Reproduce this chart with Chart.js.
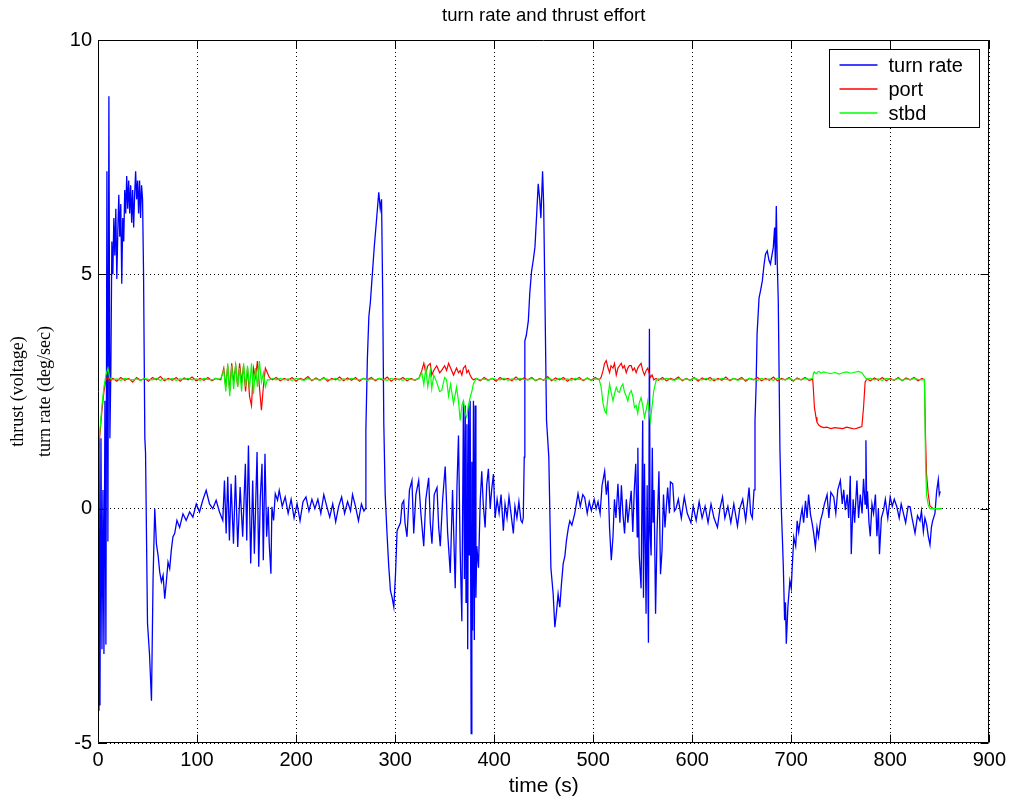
<!DOCTYPE html>
<html>
<head>
<meta charset="utf-8">
<script src="https://cdn.jsdelivr.net/npm/chart.js@4.4.1/dist/chart.umd.min.js"></script>
<style>
    body { margin: 0; background: #fff; }
    .chart-box { width: 1011px; height: 801px; }
</style>
</head>
<body>
<div class="chart-box"><canvas id="thrustChart"></canvas></div>
<script>
// turn rate (deg/sec)
const turnTime = [
    0, 1, 2, 3, 4, 5, 6, 7, 8, 9, 10, 11, 12, 13, 14,
    15, 16, 17, 18, 19, 20, 21, 22, 23, 24, 25, 26, 27, 28, 29, 30,
    31, 32, 33, 34, 35, 36, 37, 38, 39, 40, 41, 42, 43, 44, 45, 46,
    47.3, 48, 50, 52, 54, 55.6, 57.3, 59, 60.7, 62.3, 64, 65.7, 67.4, 69, 70.7,
    72.4, 74, 75.7, 77.4, 79.7, 82.4, 85.8, 89, 92.5, 95.8, 99.2, 102.5, 105.8, 109.2,
    112.6, 115.9, 119.3, 122.7, 126,
    127.7, 129.4, 131, 132.7, 134.4, 136.8, 138.8, 141.1, 143.5, 146.1, 148.8, 150.2,
    151.9, 154.2, 156.2, 157.9, 160.6, 162.3, 163.9, 165.6, 166.9, 168.6, 170.3, 171.9,
    172.9, 174.6, 175.6, 177.3, 179, 181.3, 183,
    186, 189, 192, 195, 198, 201, 204, 207, 210, 213, 216, 219, 222, 225, 228, 231,
    234, 237, 240, 243, 246, 249, 252, 255, 257, 260, 263, 266, 268.5, 270,
    270.5, 272, 273.5, 275, 277, 279, 281, 283.5, 285, 286.3, 287.5, 288.6, 290, 292,
    293.5, 295.3, 297, 298.7, 300.4, 302, 305.4, 307, 308.7, 310, 312, 314.5, 317, 318.8,
    321, 323.8, 326, 328.9, 331, 333.9, 335.5, 337.2, 339.5, 342.3, 344, 345.6, 348, 350.6,
    353, 355.7, 358, 360.7, 362.5, 364, 365.7, 367.4, 369, 370, 370.8, 371.6, 372.5, 373.3,
    374.2, 375, 375.8, 376.8, 377.5, 378.3, 379.1, 380, 380.8, 381.6, 382.5, 384.2, 386,
    387.5, 389, 390.9, 392.5, 394.2, 396, 397.5, 399.3, 401, 403, 405, 407, 409.3, 411,
    413, 415, 417, 419.4, 421, 423, 425, 427, 428.4, 429.4, 430.4, 431, 432.5, 434.5, 436,
    437.8, 439.5, 441.2, 443, 444.5, 446, 447.2, 448.9, 450, 451.2, 452.9, 455.2, 457.3,
    459.6, 461.3, 463, 464.6, 466.3, 468, 469.7, 471.5, 473, 475, 476.4, 478.5, 481.4, 483,
    484.7, 487, 489.5, 491.4, 494, 496, 498.2, 501, 503, 504.9, 507, 509, 511.6, 513.3, 515,
    516.5, 518.3, 520, 521.5, 523, 525, 527, 528.5, 530, 531.7, 533.5, 535, 537, 538.4, 540,
    541.5, 543, 544.5, 545.1, 546.5, 548.4, 550, 550.8, 551.8, 553.4, 554.5, 555.8, 556.8,
    557.5, 558.5, 559.7, 560.5, 561.5, 563, 564.5, 566.4, 568, 569.5, 571, 572.5, 575.2,
    577, 578, 580.3, 582, 583.6,
    586, 589, 592, 595, 598.7, 601, 604, 607, 610, 613, 616, 619, 622, 625.5, 628, 630.6,
    633, 636, 639, 642, 645.7, 648, 651, 654, 657.4, 659, 660.7, 662.4, 663.4, 664.5, 665.5,
    667.5, 669, 670.8, 672.5, 674, 675.8, 677.5, 679, 681.9, 683.2, 684, 684.9, 685.9, 686.9,
    688.6, 689.9, 691, 692, 693.3, 694.2, 695, 696.6, 698.6, 700, 701, 702.6, 704.5, 706,
    707.5, 709.4, 711, 712.5, 714.4, 716, 717.5, 719.4, 721, 722.5, 724.4, 726, 727.5, 729.5,
    731.5, 733.5, 736.2, 738, 740, 742.9, 745, 747, 749.6, 751.5, 753, 754.6, 756.5, 758,
    759.6, 760.6, 762.5, 764, 766.3, 768, 769.7, 771.5, 773, 774.5, 775.4, 776.2, 777, 778.5,
    779.8, 781.5, 783.1, 785, 786.5, 788, 789.1, 791, 793.2, 795, 797.5, 799.9, 802, 804,
    806.6, 809, 811, 813.3, 815.5, 818, 820, 822, 825, 827.5, 830, 831.5, 833.4, 835, 836.8,
    838.4, 840.1, 841.5, 842.8, 845.1, 846.8, 848.5, 849.5, 850.5
];
const turnRate = [
    -4.3, 1.4, -4.2, 1.5, -3.0, 0.4, -3.1, 2.3, -2.9, 7.2, -0.7, 8.8, 1.5, 3.0, 5.7,
    5.0, 6.2, 5.4, 6.4, 4.9, 5.9, 6.7, 5.8, 6.5, 4.8, 6.2, 5.7, 6.8, 6.3, 7.1, 6.4,
    7.0, 6.3, 6.9, 6.1, 6.8, 6.0, 6.7, 7.2, 6.6, 7.0, 6.3, 7.0, 6.2, 6.9, 6.6, 5.0,
    1.5, 1.2, -2.45, -3.1, -4.1, -1.5, 0.0, -0.75, -1.0, -1.35, -1.56, -1.42, -1.92, -1.56, -1.14,
    -1.28, -0.89, -0.6, -0.53, -0.25, -0.4, -0.11, -0.25, -0.07, -0.18, 0.1, -0.07, 0.18, 0.39,
    0.1, 0.0, 0.18, -0.07, -0.25,
    0.6, -0.53, 0.68, -0.68, 0.53, -0.75, 0.71, -0.82, 0.46, -0.6, 0.96, -0.68,
    1.35, -1.17, 0.6, -0.96, 1.21, -1.24, 0.25, 0.96, -1.1, 1.17, -0.6, 0.04,
    -0.75, -1.39, 0.04, -0.25, 0.32, 0.18, 0.39,
    0.05, 0.25, -0.1, 0.2, -0.2, 0.1, -0.26, 0.15, 0.25, -0.05, 0.2, 0.0, 0.2, -0.1, 0.3, 0.05,
    -0.18, 0.1, -0.28, 0.05, 0.25, -0.1, 0.15, -0.05, 0.3, 0.05, -0.26, 0.1, -0.05, 0.0,
    1.7, 3.2, 4.1, 4.4, 5.0, 5.6, 6.1, 6.75, 6.4, 6.6, 4.5, 1.8, 0.3, -0.6,
    -1.2, -1.75, -1.9, -2.1, -1.4, -0.47, -0.3, 0.1, 0.17, -0.3, -0.6, 0.4, 0.6, -0.53,
    0.3, 0.6, -0.1, -0.8, 0.2, 0.66, -0.3, -0.75, 0.3, 0.45, -0.4, -0.8, 0.2, 0.9,
    -0.5, -1.37, 0.4, -1.7, 0.5, 1.56, -0.9, -2.4, 2.3, -1.5, 2.2, -2.0, 1.8, -3.0,
    2.2, -1.0, 2.3, -4.8, 1.0, -2.6, 2.3, -2.8, 2.2, -1.9, -0.8, -1.26, 0.2,
    0.8, 0.1, -0.4, 0.5, 0.85, 0.0, 0.4, 0.74, -0.2, 0.2, -0.1, 0.3, -0.47, 0.1,
    -0.2, 0.25, -0.1, -0.53, 0.05, -0.2, 0.15, -0.25, -0.3, -0.2, 1.1, 3.58, 3.7, 4.0, 4.6,
    5.07, 5.3, 5.58, 6.3, 6.93, 6.6, 6.2, 7.2, 6.5, 4.65, 1.88, 1.1, -1.26,
    -1.82, -2.53, -2.2, -1.82, -2.1, -1.6, -1.18, -1.0, -0.68, -0.4, -0.26, -0.35, -0.1, 0.1,
    0.32, 0.05, 0.3, 0.24, -0.1, 0.15, -0.04, 0.2, 0.0, 0.15, -0.1, 0.5, 0.8, 0.3, 0.6,
    -0.4, -1.1, -0.6, 0.2, -0.2, 0.53, -0.3, 0.5, -0.1, -0.53, 0.2, -0.3, 0.1, 0.38, -0.5,
    0.4, 0.96, -0.6, 1.3, -1.0, -1.7, 1.88, -1.9, 0.96, -2.24, 0.5, -2.86, 3.84,
    -0.5, -1.0, 1.3, -0.3, 0.4, -2.24, -0.5, 0.8, -1.4, -0.9, 0.3, -0.4, 0.45,
    -0.1, 0.57, 0.53, -0.05, 0.0,
    0.2, -0.2, 0.25, -0.1, -0.3, 0.05, -0.25, 0.15, -0.2, 0.05, -0.3, 0.1, -0.2, -0.4, 0.0, 0.25,
    -0.2, 0.05, -0.3, 0.1, -0.37, 0.0, 0.2, -0.25, 0.45, -0.1, -0.2, 0.4, 1.88, 2.6, 3.73,
    4.5, 4.65, 4.86, 5.2, 5.43, 5.5, 5.3, 5.22, 5.58, 6.0, 5.2, 6.46, 5.22, 4.44,
    1.24, 0.04, -0.6, -1.24, -2.38, -2.0, -2.88, -2.1, -1.54, -1.7, -1.24, -0.61, -0.8, -0.26,
    -0.5, -0.19, 0.0, -0.3, 0.17, -0.2, 0.3, -0.12, -0.3, -0.5, -0.82, -0.4, -0.6, -0.26,
    -0.1, 0.1, 0.3, -0.2, 0.35, 0.25, -0.1, 0.4, 0.6, 0.1, 0.4, -0.03, 0.3, -0.2,
    0.7, -0.97, 0.2, -0.3, 0.6, -0.2, 0.3, -0.1, 0.64, 0.1, 1.46, 0.0, 0.37, -0.3,
    -0.59, 0.1, -0.1, 0.3, -0.59, 0.0, -0.97, -0.2, -0.03, 0.2, -0.2, 0.25, 0.05, 0.2,
    0.04, -0.2, 0.1, -0.1, -0.3, 0.05, 0.04, -0.2, -0.52, -0.15, -0.26, -0.05, -0.49, -0.2, -0.35,
    -0.59, -0.77, -0.4, -0.26, -0.1, 0.37, 0.62, 0.3, 0.37
];

// thruster voltages, port and starboard share one time base
const thrustTime = [
    0, 2, 4, 6, 8, 10, 12,
    15, 19, 23, 27, 31, 35, 39, 43, 47, 51, 55, 59, 63, 67, 71, 75, 79, 83, 87, 91, 95, 99,
    103, 107, 111, 115, 119, 122,
    124, 127, 129, 131, 133, 135, 137, 139, 141, 143, 145, 147, 149, 151, 153, 155, 157, 159,
    161, 163, 165, 167, 169, 171, 173, 176,
    180, 184, 188, 192, 196, 200, 204, 208, 212, 216, 220, 224, 228, 232, 236, 240, 244, 248,
    252, 256, 260, 264, 268, 272, 276, 280, 284, 288, 292, 296, 300, 304, 308, 312, 316, 320, 324,
    327, 329, 331, 333, 335.5, 337, 339, 342, 345, 347, 350, 352, 354, 356, 359, 362, 364,
    365.7, 367.4, 369, 371, 372.4, 374, 375.7, 377.5, 379, 382, 386,
    390, 394, 398, 402, 406, 410, 414, 418, 422, 426, 430, 434, 438, 442, 446, 450, 454, 458,
    462, 466, 470, 474, 478, 482, 486, 490, 494, 498, 502, 506,
    508, 510, 511.5, 513.2, 515, 516.6, 518, 520, 521.5, 523.3, 525, 526.6, 528.3, 530, 531.5,
    533.4, 535, 536.5, 538.4, 540, 541.7, 543.4, 545, 546.5, 548.4, 550, 551.8, 553.5, 555.1,
    556.5, 557.8, 559.5, 561.2, 563.5, 566,
    570, 574, 578, 582, 586, 590, 594, 598, 602, 606, 610, 614, 618, 622, 626, 630, 634, 638,
    642, 646, 650, 654, 658, 662, 666, 670, 674, 678, 682, 686, 690, 694, 698, 702, 706, 710,
    714, 718, 721.7,
    722.5, 723.4, 725, 726, 728, 730, 732.7, 736, 740, 744, 748, 752, 756, 760, 764, 768,
    771.3, 773, 774.6, 776.3,
    780, 784, 788, 792, 796, 800, 804, 808, 812, 816, 820, 824, 828, 832, 834.5,
    835.6, 836.6, 838.3, 840, 843.3, 852
];
const portThrust = [
    1.1, 1.6, 2.1, 2.5, 2.75, 2.8, 2.72,
    2.78, 2.72, 2.8, 2.74, 2.78, 2.7, 2.8, 2.74, 2.78, 2.72, 2.8, 2.75, 2.82, 2.73, 2.78, 2.74, 2.8, 2.72, 2.79, 2.75, 2.81, 2.73,
    2.78, 2.74, 2.8, 2.73, 2.78, 2.76,
    2.75, 3.0, 2.6, 3.05, 2.5, 3.1, 2.7, 3.05, 2.6, 3.1, 2.7, 3.05, 2.5, 3.0, 2.4, 2.2, 3.0, 2.8,
    3.15, 2.6, 2.1, 2.6, 3.0, 2.9, 2.8, 2.75,
    2.8, 2.73, 2.78, 2.74, 2.8, 2.72, 2.78, 2.75, 2.82, 2.73, 2.79, 2.74, 2.8, 2.72, 2.78, 2.75, 2.81, 2.73,
    2.79, 2.74, 2.8, 2.72, 2.78, 2.75, 2.8, 2.73, 2.78, 2.74, 2.81, 2.72, 2.78, 2.75, 2.8, 2.73, 2.78, 2.74, 2.78,
    2.95, 3.1, 2.9, 3.05, 3.1, 2.85, 2.95, 3.05, 2.9, 2.95, 3.05, 2.95, 3.1, 3.0, 2.85, 3.0, 2.9,
    2.95, 2.85, 3.0, 3.05, 2.9, 2.95, 2.85, 2.78, 2.75, 2.78, 2.73,
    2.8, 2.74, 2.78, 2.72, 2.8, 2.75, 2.78, 2.73, 2.81, 2.74, 2.79, 2.75, 2.8, 2.73, 2.78, 2.74, 2.82, 2.73,
    2.79, 2.75, 2.8, 2.72, 2.78, 2.75, 2.8, 2.73, 2.79, 2.74, 2.8, 2.75,
    2.8, 2.95, 3.1, 3.16, 3.0, 2.9, 3.05, 3.0, 3.1, 2.85, 3.0, 3.05, 3.1, 3.0, 3.05,
    2.9, 3.0, 3.05, 3.05, 2.95, 3.0, 2.9, 3.0, 3.05, 3.1, 2.95, 2.85, 2.95, 3.0,
    2.9, 2.8, 2.85, 2.75, 2.78, 2.74,
    2.8, 2.73, 2.78, 2.75, 2.81, 2.73, 2.78, 2.74, 2.8, 2.72, 2.79, 2.75, 2.8, 2.73, 2.78, 2.74, 2.81, 2.73,
    2.78, 2.75, 2.8, 2.72, 2.78, 2.75, 2.8, 2.73, 2.78, 2.74, 2.81, 2.73, 2.78, 2.75, 2.8, 2.72, 2.79, 2.75,
    2.8, 2.74, 2.76,
    2.5, 2.16, 1.95, 1.84, 1.78, 1.75, 1.73, 1.74, 1.71, 1.73, 1.72, 1.71, 1.74, 1.72, 1.7, 1.73,
    1.75, 2.16, 2.7, 2.77,
    2.73, 2.79, 2.74, 2.8, 2.73, 2.78, 2.74, 2.8, 2.73, 2.79, 2.75, 2.8, 2.73, 2.78, 2.75,
    1.52, 0.74, 0.32, 0.06, 0.0, 0.0
];
const stbdThrust = [
    1.3, 1.7, 2.2, 2.6, 2.85, 3.0, 2.78,
    2.75, 2.77, 2.74, 2.78, 2.76, 2.75, 2.77, 2.74, 2.78, 2.76, 2.75, 2.78, 2.74, 2.77, 2.75, 2.78, 2.74, 2.77, 2.76, 2.78, 2.75, 2.77,
    2.74, 2.78, 2.76, 2.75, 2.78, 2.76,
    2.78, 2.95, 2.5, 3.1, 2.4, 3.05, 2.55, 3.1, 2.6, 3.0, 2.5, 3.1, 2.6, 3.05, 2.55, 3.1, 2.45, 3.0,
    2.6, 3.15, 2.7, 2.9, 2.6, 2.75, 2.75, 2.78,
    2.75, 2.78, 2.75, 2.77, 2.74, 2.78, 2.76, 2.74, 2.78, 2.75, 2.77, 2.74, 2.78, 2.76, 2.75, 2.78, 2.74, 2.77,
    2.75, 2.78, 2.76, 2.75, 2.78, 2.74, 2.77, 2.75, 2.78, 2.76, 2.74, 2.78, 2.75, 2.77, 2.74, 2.78, 2.76, 2.75, 2.78,
    2.9, 2.65, 3.0, 2.6, 2.95, 2.56, 2.85, 2.7, 2.5, 2.52, 2.8, 2.75, 2.4, 2.66, 2.24, 2.59, 2.3,
    1.88, 2.2, 2.3, 2.0, 1.95, 2.2, 2.37, 2.5, 2.66, 2.78, 2.75,
    2.77, 2.74, 2.78, 2.76, 2.75, 2.78, 2.74, 2.77, 2.75, 2.78, 2.76, 2.75, 2.78, 2.74, 2.77, 2.75, 2.78, 2.76,
    2.74, 2.78, 2.75, 2.77, 2.74, 2.78, 2.76, 2.75, 2.78, 2.74, 2.77, 2.76,
    2.6, 2.24, 2.1, 2.03, 2.4, 2.66, 2.5, 2.3, 2.45, 2.59, 2.5, 2.48, 2.6, 2.66, 2.5,
    2.4, 2.3, 2.45, 2.52, 2.4, 2.16, 2.2, 2.03, 2.25, 2.37, 2.2, 1.95, 2.1, 2.3,
    2.1, 1.88, 2.2, 2.52, 2.73, 2.77,
    2.75, 2.78, 2.76, 2.74, 2.78, 2.75, 2.77, 2.74, 2.78, 2.76, 2.75, 2.78, 2.74, 2.77, 2.75, 2.78, 2.76, 2.75,
    2.78, 2.74, 2.77, 2.75, 2.78, 2.76, 2.74, 2.78, 2.75, 2.77, 2.74, 2.78, 2.76, 2.75, 2.78, 2.74, 2.77, 2.75,
    2.78, 2.76, 2.78,
    2.9, 2.92, 2.88, 2.91, 2.93, 2.89, 2.92, 2.9, 2.88, 2.91, 2.87, 2.9, 2.92, 2.89, 2.91, 2.93,
    2.9, 2.85, 2.8, 2.76,
    2.78, 2.75, 2.77, 2.74, 2.78, 2.76, 2.75, 2.78, 2.74, 2.77, 2.75, 2.78, 2.76, 2.75, 2.76,
    1.0, 0.3, 0.08, 0.0, 0.0, 0.0
];

const seriesNames = ["turn rate", "port", "stbd"];
const seriesColors = ["#0000ff", "#ff0000", "#00ff00"];

const xTicks = { min: 0, max: 900, step: 100 };
const yTicks = { min: -5, max: 10, step: 5 };

function toPoints(xs, ys) {
    return xs.map((x, i) => ({ x: x, y: ys[i] }));
}

// matlab style box: frame all round, ticks pointing inwards
const boxFrame = {
    id: "boxFrame",
    afterDatasetsDraw(chart) {
        const { ctx, chartArea: a, scales } = chart;
        const left = Math.round(a.left) + 0.5;
        const right = Math.round(a.right) - 0.5;
        const top = Math.round(a.top) + 0.5;
        const bottom = Math.round(a.bottom) - 0.5;
        const len = 8;

        ctx.save();
        ctx.strokeStyle = "#000";
        ctx.lineWidth = 1;
        ctx.beginPath();
        ctx.rect(left, top, right - left, bottom - top);

        scales.x.ticks.forEach(t => {
            const px = Math.round(scales.x.getPixelForValue(t.value)) + 0.5;
            ctx.moveTo(px, bottom);
            ctx.lineTo(px, bottom - len);
            ctx.moveTo(px, top);
            ctx.lineTo(px, top + len);
        });
        scales.y.ticks.forEach(t => {
            const py = Math.round(scales.y.getPixelForValue(t.value)) + 0.5;
            ctx.moveTo(left, py);
            ctx.lineTo(left + len, py);
            ctx.moveTo(right, py);
            ctx.lineTo(right - len, py);
        });
        ctx.stroke();
        ctx.restore();
    }
};

const boxLegend = {
    id: "boxLegend",
    afterDraw(chart) {
        const { ctx, chartArea: a } = chart;
        const w = 150, h = 78;
        const x0 = Math.round(a.right) - 10 - w + 0.5;
        const y0 = Math.round(a.top) + 9 + 0.5;

        ctx.save();
        ctx.fillStyle = "#fff";
        ctx.fillRect(x0, y0, w, h);
        ctx.strokeStyle = "#000";
        ctx.lineWidth = 1;
        ctx.strokeRect(x0, y0, w, h);

        ctx.font = "20px 'Liberation Sans', Arial, sans-serif";
        ctx.textBaseline = "middle";
        seriesNames.forEach((name, i) => {
            const cy = Math.round(y0 + 15 + i * 24);
            ctx.beginPath();
            ctx.strokeStyle = seriesColors[i];
            ctx.lineWidth = 1.6;
            ctx.moveTo(x0 + 10, cy);
            ctx.lineTo(x0 + 48, cy);
            ctx.stroke();
            ctx.fillStyle = "#000";
            ctx.fillText(name, x0 + 59, cy + 1);
        });
        ctx.restore();
    }
};

const ctx = document.getElementById("thrustChart");

new Chart(ctx, {
    type: "line",
    data: {
        datasets: [
            {
                label: seriesNames[0],
                data: toPoints(turnTime, turnRate),
                borderColor: seriesColors[0],
                borderWidth: 1.3,
                pointRadius: 0,
                order: 3
            },
            {
                label: seriesNames[1],
                data: toPoints(thrustTime, portThrust),
                borderColor: seriesColors[1],
                borderWidth: 1.2,
                pointRadius: 0,
                order: 2
            },
            {
                label: seriesNames[2],
                data: toPoints(thrustTime, stbdThrust),
                borderColor: seriesColors[2],
                borderWidth: 1.2,
                pointRadius: 0,
                order: 1
            }
        ]
    },
    options: {
        responsive: true,
        maintainAspectRatio: false,
        animation: false,
        layout: { padding: { top: 0, left: 0, right: 18, bottom: 0 } },
        elements: { line: { tension: 0 } },
        plugins: {
            legend: { display: false },
            tooltip: { enabled: false },
            title: {
                display: true,
                text: "turn rate and thrust effort",
                fullSize: false,
                color: "#000",
                font: { family: "'Liberation Sans', Arial, sans-serif", size: 18.5, weight: "normal" },
                padding: { top: 5, bottom: 12.8 }
            }
        },
        scales: {
            x: {
                type: "linear",
                min: xTicks.min,
                max: xTicks.max,
                afterFit: scale => { scale.height = 58; },
                ticks: {
                    stepSize: xTicks.step,
                    color: "#000",
                    padding: 5,
                    maxRotation: 0,
                    font: { family: "'Liberation Sans', Arial, sans-serif", size: 20 }
                },
                grid: { color: "#000", lineWidth: 1, drawTicks: false },
                border: { display: false, dash: [1, 3] },
                title: {
                    display: true,
                    text: "time (s)",
                    color: "#000",
                    font: { family: "'Liberation Sans', Arial, sans-serif", size: 21 },
                    padding: { top: 0, bottom: 2 }
                }
            },
            y: {
                min: yTicks.min,
                max: yTicks.max,
                afterFit: scale => { scale.width = 98; },
                ticks: {
                    stepSize: yTicks.step,
                    color: "#000",
                    padding: 6,
                    font: { family: "'Liberation Sans', Arial, sans-serif", size: 20 }
                },
                grid: { color: "#000", lineWidth: 1, drawTicks: false },
                border: { display: false, dash: [1, 3] },
                title: {
                    display: true,
                    text: ["thrust (voltage)", "turn rate (deg/sec)"],
                    color: "#000",
                    font: { family: "'Liberation Serif', 'Times New Roman', serif", size: 18, lineHeight: 1.5 },
                    padding: { top: 5, bottom: 0 }
                }
            }
        }
    },
    plugins: [boxFrame, boxLegend]
});
</script>
</body>
</html>
